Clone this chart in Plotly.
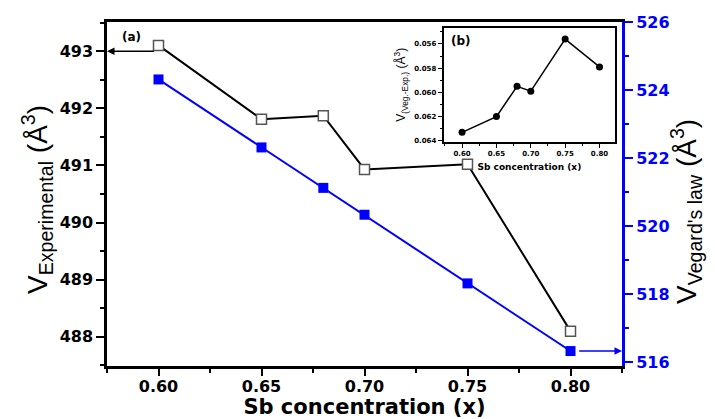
import plotly.graph_objects as go

# Sb concentration (x)
sb_x = [0.60, 0.65, 0.68, 0.70, 0.75, 0.80]
# Experimental cell volume (Å^3), left axis
v_experimental = [493.10, 491.81, 491.87, 490.93, 491.02, 488.10]
# Vegard's law cell volume (Å^3), right axis
v_vegard = [524.31, 522.31, 521.12, 520.33, 518.31, 516.32]
# Inset: V(Veg.-Exp.)
v_diff = [0.0633, 0.0620, 0.0595, 0.0599, 0.0556, 0.0579]

BLUE = "#0000FF"
TICK_FONT = dict(family="DejaVu Sans", size=16, color="black", weight="bold")
TITLE_FONT = dict(family="Liberation Sans", size=28, color="black")

# plot-area geometry (px) used to place free text in paper coordinates
L, R, T, B = 107, 93, 22, 53
PW, PH = 715 - L - R, 419 - T - B


def px_to_paper(px, py):
    return (px - L) / PW, (419 - B - py) / PH


fig = go.Figure()

fig.add_trace(go.Scatter(
    x=sb_x, y=v_experimental, mode="lines+markers",
    line=dict(color="black", width=2),
    marker=dict(symbol="square", size=10, color="white",
                line=dict(color="#555555", width=1.5)),
    xaxis="x", yaxis="y", showlegend=False,
))
fig.add_trace(go.Scatter(
    x=sb_x, y=v_vegard, mode="lines+markers",
    line=dict(color=BLUE, width=2),
    marker=dict(symbol="square", size=10, color=BLUE),
    xaxis="x", yaxis="y2", showlegend=False,
))
fig.add_trace(go.Scatter(
    x=sb_x, y=v_diff, mode="lines+markers",
    line=dict(color="black", width=1.5),
    marker=dict(symbol="circle", size=7, color="black"),
    xaxis="x3", yaxis="y3", showlegend=False,
))

a_x, a_y = px_to_paper(131, 37.5)
b_x, b_y = px_to_paper(460.5, 40.7)
lt_x, lt_y = px_to_paper(37, 200)
rt_x, rt_y = px_to_paper(686, 212)

fig.update_layout(
    width=715, height=419,
    margin=dict(l=L, r=R, t=T, b=B),
    paper_bgcolor="white", plot_bgcolor="white",
    xaxis=dict(
        automargin=False,
        range=[0.575, 0.825], tick0=0.6, dtick=0.05, tickformat=".2f",
        showline=True, linecolor="black", linewidth=2.5, mirror=True,
        ticks="outside", ticklen=7, tickwidth=2, tickcolor="black",
        minor=dict(dtick=0.025, tick0=0.6, ticks="outside", ticklen=4,
                   tickwidth=2, tickcolor="black"),
        showgrid=False, zeroline=False, tickfont=TICK_FONT,
        ticklabelstandoff=-3,
        title=dict(text="Sb concentration (x)", standoff=2,
                   font=dict(family="DejaVu Sans", size=21, color="black",
                             weight="bold")),
    ),
    yaxis=dict(
        automargin=False,
        range=[487.49, 493.51], tick0=488, dtick=1,
        showline=True, linecolor="black", linewidth=2.5,
        ticks="outside", ticklen=8, tickwidth=2, tickcolor="black",
        minor=dict(dtick=0.5, tick0=488, ticks="outside", ticklen=4,
                   tickwidth=2, tickcolor="black"),
        showgrid=False, zeroline=False, tickfont=TICK_FONT,
    ),
    yaxis2=dict(
        automargin=False,
        overlaying="y", side="right", anchor="x",
        range=[515.88, 526], tick0=516, dtick=2,
        showline=True, linecolor=BLUE, linewidth=3,
        ticks="outside", ticklen=8, tickwidth=2, tickcolor=BLUE,
        minor=dict(dtick=1, tick0=516, ticks="outside", ticklen=4,
                   tickwidth=2, tickcolor=BLUE),
        showgrid=False, zeroline=False,
        tickfont=dict(family="DejaVu Sans", size=16, color=BLUE, weight="bold"),
    ),
    xaxis3=dict(
        domain=[0.6534, 0.987], anchor="y3",
        range=[0.573, 0.823], tick0=0.6, dtick=0.05, tickformat=".2f",
        showline=True, linecolor="black", linewidth=1.5, mirror=True,
        ticks="outside", ticklen=4, tickwidth=1.2, tickcolor="black",
        minor=dict(dtick=0.025, tick0=0.6, ticks="outside", ticklen=2,
                   tickwidth=1, tickcolor="black"),
        showgrid=False, zeroline=False,
        tickfont=dict(family="DejaVu Sans", size=7, color="black", weight="bold"),
        title=dict(text="Sb concentration (x)", standoff=7,
                   font=dict(family="DejaVu Sans", size=9, color="black",
                             weight="bold")),
    ),
    yaxis3=dict(
        domain=[0.6512, 0.9837], anchor="x3",
        range=[0.0641, 0.05465], tick0=0.056, dtick=0.002, tickformat=".3f",
        showline=True, linecolor="black", linewidth=1.5, mirror=True,
        ticks="outside", ticklen=4, tickwidth=1.2, tickcolor="black",
        minor=dict(dtick=0.001, tick0=0.056, ticks="outside", ticklen=2,
                   tickwidth=1, tickcolor="black"),
        showgrid=False, zeroline=False,
        tickfont=dict(family="DejaVu Sans", size=7, color="black", weight="bold"),
        title=dict(text="V<sub>(Veg.-Exp.)</sub> (Å<sup>3</sup>)", standoff=6,
                   font=dict(family="Liberation Sans", size=12, color="black")),
    ),
    annotations=[
        # arrow pointing from the experimental series to its axis
        dict(x=0.575, y=493.0, xref="x", yref="y",
             ax=0.5985, ay=493.0, axref="x", ayref="y",
             showarrow=True, arrowhead=2, arrowsize=1, arrowwidth=1.5,
             arrowcolor="black", standoff=0, startstandoff=0, text=""),
        # arrow pointing from the Vegard's law series to its axis
        dict(x=0.825, y=516.32, xref="x", yref="y2",
             ax=0.8035, ay=516.32, axref="x", ayref="y2",
             showarrow=True, arrowhead=2, arrowsize=1, arrowwidth=1.5,
             arrowcolor=BLUE, standoff=0, startstandoff=0, text=""),
        dict(x=a_x, y=a_y, xref="paper", yref="paper", text="(a)",
             showarrow=False, xanchor="center", yanchor="middle",
             font=dict(family="DejaVu Sans", size=12, color="black",
                       weight="bold")),
        dict(x=b_x, y=b_y, xref="paper", yref="paper", text="(b)",
             showarrow=False, xanchor="center", yanchor="middle",
             font=dict(family="DejaVu Sans", size=12, color="black",
                       weight="bold")),
        # left and right axis titles
        dict(x=lt_x, y=lt_y, xref="paper", yref="paper", textangle=-90,
             text="V<sub>Experimental</sub> (Å<sup>3</sup>)",
             showarrow=False, xanchor="center", yanchor="middle",
             font=TITLE_FONT),
        dict(x=rt_x, y=rt_y, xref="paper", yref="paper", textangle=-90,
             text="V<sub>Vegard's law</sub> (Å<sup>3</sup>)",
             showarrow=False, xanchor="center", yanchor="middle",
             font=TITLE_FONT),
    ],
)

fig.write_html("out.html")
